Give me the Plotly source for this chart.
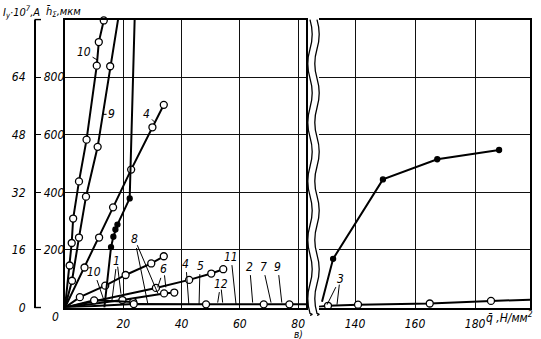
import math
import plotly.graph_objects as go

W, H = 541, 339

# ---------------- data (q, Н/мм² ; h, мкм) ----------------
# left panel, steep curves
c10_q = [0, 1.6, 2.3, 2.8, 4.8, 7.4, 10.9, 11.6, 13.3]
c10_h = [0, 146, 224, 309, 438, 583, 840, 922, 997]
c10_m = [0, 1, 1, 1, 1, 1, 1, 1, 1]

c9_q = [0, 2.4, 4.8, 7.2, 11.2, 15.5, 18.2]
c9_h = [0, 93, 243, 385, 558, 838, 1000]
c9_m = [0, 1, 1, 1, 1, 1, 0]

c4_q = [0, 6.7, 11.7, 16.5, 22.7, 30.0, 33.9]
c4_h = [0, 139, 243, 348, 479, 626, 704]
c4_m = [0, 1, 1, 1, 1, 1, 1]

c1_q = [13.5, 15.8, 16.6, 17.3, 18.0, 22.2, 23.9]
c1_h = [0, 210, 246, 271, 288, 379, 1000]
c1_m = [0, 1, 1, 1, 1, 1, 0]

# left panel, flat curves
cP_q = [0, 5.1, 13.8, 20.8, 29.6, 33.9]
cP_h = [0, 36, 76, 113, 153, 178]
cP_m = [0, 1, 1, 1, 1, 1]

cR_q = [0, 31.2, 42.6, 50.2, 54.3]
cR_h = [0, 68, 96, 118, 133]
cR_m = [0, 1, 1, 1, 1]

cS_q = [0, 19.7, 34.0, 37.5]
cS_h = [0, 26, 49, 52]
cS_m = [0, 1, 1, 1]

cU_q = [0, 10.0, 23.4]
cU_h = [0, 25, 19]
cU_m = [0, 1, 1]

cT_q = [0, 23.6, 48.4, 68.2, 77.0, 82.7]
cT_h = [0, 12, 11, 11, 11, 11]
cT_m = [0, 1, 1, 1, 1, 0]

# right panel
r3a_q = [129.0, 132.7, 149.3, 167.4, 188.0]
r3a_h = [20, 169, 445, 515, 547]
r3a_m = [0, 1, 1, 1, 1]

r3b_q = [128.0, 131.0, 141.0, 164.9, 185.3, 198.3]
r3b_h = [3, 6, 10, 14, 23, 27]
r3b_m = [0, 1, 1, 1, 1, 0]

x_left_ticks = [20, 40, 60, 80]
x_right_ticks = [140, 160, 180]
h_ticks = [200, 400, 600, 800]
i_ticks = [0, 200, 400, 600, 800]
i_text = ["0", "16", "32", "48", "64"]

# curve labels: text, q, h, panel, dx, dy (pixel offset of text from leader tip)
labels = [
    ("10", 11.0, 860, 1, -13, -8),
    ("9", 12.9, 671, 1, 9, 0),
    ("4", 30.85, 643, 1, -8, -8),
    ("10", 13.4, 24, 1, -10, -29),
    ("1", 16.1, 24, 1, 5, -40),
    ("8", 28.4, 14, 1, -13, -64),
    ("6", 31.8, 70, 1, 6, -18),
    ("4", 42.5, 10, 1, -3, -41),
    ("5", 46.0, 10, 1, 1, -39),
    ("11", 58.7, 10, 1, -5, -48),
    ("12", 52.4, 17, 1, 3, -19),
    ("2", 64.4, 17, 1, -3, -36),
    ("7", 70.7, 17, 1, -8, -36),
    ("9", 74.4, 17, 1, -4, -36),
    ("3", 130.7, 10, 2, 13, -26),
]
# second leader lines of labels that point at two curves
extra_leaders = [
    (19.2, 48, 1, -4, -33),
    (31.9, 48, 1, -23, -54),
    (34.6, 70, 1, -2, -18),
    (54.1, 17, 1, -2, -19),
    (134.0, 10, 2, 3, -26),
]

FONT = "Liberation Sans Narrow, DejaVu Sans Condensed, Liberation Sans, sans-serif"

fig = go.Figure()


def add_curve(q, h, m, xa, ya, filled=False):
    fig.add_trace(go.Scatter(x=q, y=h, mode="lines", xaxis=xa, yaxis=ya,
                             line=dict(color="black", width=2),
                             showlegend=False, hoverinfo="skip"))
    mq = [a for a, k in zip(q, m) if k]
    mh = [b for b, k in zip(h, m) if k]
    fig.add_trace(go.Scatter(
        x=mq, y=mh, mode="markers", xaxis=xa, yaxis=ya, cliponaxis=False,
        marker=dict(symbol="circle", size=5 if filled else 7,
                    color="black" if filled else "white",
                    line=dict(color="black", width=1.3)),
        showlegend=False, hoverinfo="skip"))


for q, h, m in [(c10_q, c10_h, c10_m), (c9_q, c9_h, c9_m), (c4_q, c4_h, c4_m),
                (cP_q, cP_h, cP_m), (cR_q, cR_h, cR_m), (cS_q, cS_h, cS_m),
                (cU_q, cU_h, cU_m), (cT_q, cT_h, cT_m)]:
    add_curve(q, h, m, "x", "y")
add_curve(c1_q, c1_h, c1_m, "x", "y", filled=True)
add_curve(r3b_q, r3b_h, r3b_m, "x2", "y2")
add_curve(r3a_q, r3a_h, r3a_m, "x2", "y2", filled=True)

# empty traces to activate the outer axes
fig.add_trace(go.Scatter(x=[None], y=[None], xaxis="x", yaxis="y3", showlegend=False))
fig.add_trace(go.Scatter(x=[None], y=[None], xaxis="x", yaxis="y4", showlegend=False))

ydom = [1 - 314 / H, 1 - 20 / H]
tickfont = dict(family=FONT, size=12, color="black", style="italic")
grid = dict(showgrid=True, gridcolor="#111", gridwidth=1.2, zeroline=False)

fig.update_layout(
    width=W, height=H, margin=dict(l=0, r=0, t=0, b=0),
    paper_bgcolor="white", plot_bgcolor="white",
    font=dict(family=FONT, size=12, color="black", style="italic"),
    xaxis=dict(domain=[65 / W, 306 / W], range=[0, 82.7], tickvals=x_left_ticks,
               showline=True, mirror=True, linecolor="black",
               linewidth=1.6, anchor="y", ticks="", ticklabelstandoff=4,
               tickfont=tickfont, **grid),
    yaxis=dict(domain=ydom, range=[0, 1000], tickvals=[200, 400, 600, 800],
               showticklabels=False, showline=True, mirror=True, linecolor="black",
               linewidth=1.6, anchor="x", ticks="", **grid),
    xaxis2=dict(domain=[319 / W, 530 / W], range=[128, 198.3], tickvals=x_right_ticks,
                showline=True, mirror=True, linecolor="black", linewidth=1.6,
                anchor="y2", ticks="", ticklabelstandoff=4, tickfont=tickfont, **grid),
    yaxis2=dict(domain=ydom, range=[0, 1000], tickvals=[200, 400, 600, 800],
                showticklabels=False, showline=True, side="right", linecolor="black",
                linewidth=1.6, anchor="x2", ticks="", **grid),
    yaxis3=dict(overlaying="y", anchor="free", position=34.5 / W, side="right",
                range=[0, 1000], tickvals=h_ticks,
                showline=True, linecolor="black", linewidth=1.6,
                ticks="outside", ticklen=6, tickwidth=1.4, tickcolor="black",
                tickfont=tickfont, showgrid=False, zeroline=False),
    yaxis4=dict(overlaying="y", anchor="free", position=34.5 / W, side="left",
                range=[0, 1000], tickvals=i_ticks, ticktext=i_text,
                showline=False, ticks="", ticklabelstandoff=9,
                tickfont=tickfont, showgrid=False, zeroline=False),
)

lfont = dict(family=FONT, size=12, style="italic")
ann = []
for t, q, h, p, dx, dy in labels:
    xa, ya = ("x", "y") if p == 1 else ("x2", "y2")
    ann.append(dict(text=t, x=q, y=h, xref=xa, yref=ya, showarrow=True,
                    arrowhead=0, arrowwidth=1, arrowcolor="black", standoff=0,
                    ax=dx, ay=dy, font=lfont))

# axis titles and captions
ann += [
    dict(text="I<sub>у</sub>·10<sup>7</sup>,A", x=1 / W, y=1 - 12 / H, xref="paper",
         yref="paper", xanchor="left", yanchor="middle", showarrow=False,
         font=dict(family=FONT, size=11, style="italic")),
    dict(text="h̄<sub>Σ</sub>,мкм", x=44 / W, y=1 - 12 / H, xref="paper",
         yref="paper", xanchor="left", yanchor="middle", showarrow=False,
         font=dict(family=FONT, size=11, style="italic")),
    dict(text="0", x=55 / W, y=1 - 324 / H, xref="paper", yref="paper",
         xanchor="center", yanchor="middle", showarrow=False, font=lfont),
    dict(text="q̄ ,Н/мм<sup>2</sup>", x=484 / W, y=1 - 324 / H, xref="paper",
         yref="paper", xanchor="left", yanchor="middle", showarrow=False,
         font=lfont),
    dict(text="в)", x=298 / W, y=1 - 342 / H, xref="paper", yref="paper",
         xanchor="center", yanchor="middle", showarrow=False,
         font=dict(family=FONT, size=10, style="italic")),
]
fig.update_layout(annotations=ann)

shapes = []
# short end ticks (top and bottom feet) of the outer axis line
for yp in ydom:
    shapes.append(dict(type="line", xref="paper", yref="paper", x0=34.5 / W,
                       x1=41 / W, y0=yp, y1=yp, line=dict(color="black", width=1.4)))
# second leader lines (pixel-sized lines anchored at the curve point)
for q, h, p, dx, dy in extra_leaders:
    xa, ya = ("x", "y") if p == 1 else ("x2", "y2")
    L = math.hypot(dx, dy)
    f = (L - 6) / L
    shapes.append(dict(type="line", xref=xa, yref=ya, xsizemode="pixel",
                       ysizemode="pixel", xanchor=q, yanchor=h, x0=0, y0=0,
                       x1=dx * f, y1=-dy * f, line=dict(color="black", width=1)))

# wavy break lines
for xc in (310, 317):
    path = f"M {xc / W} {1 - 20 / H}"
    y = 20
    amp = 2.2
    sign = 1
    while y < 322:
        y2 = min(y + 30, 322)
        path += f" Q {(xc + sign * amp * 2) / W} {1 - (y + y2) / 2 / H} {xc / W} {1 - y2 / H}"
        y = y2
        sign = -sign
    shapes.append(dict(type="path", path=path, xref="paper", yref="paper",
                       line=dict(color="black", width=1.3)))
fig.update_layout(shapes=shapes)

fig.write_html("out.html")
